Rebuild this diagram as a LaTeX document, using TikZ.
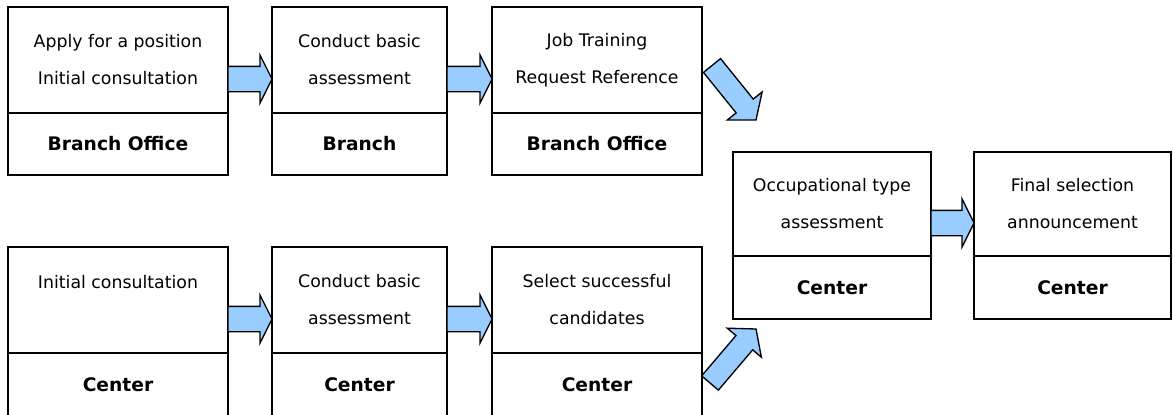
\documentclass[tikz,border=0pt]{standalone}
\usepackage{fontspec}
\setmainfont{DejaVu Sans}
\usetikzlibrary{calc}
\usetikzlibrary{positioning}

\definecolor{arrowblue}{RGB}{153,204,255}

\tikzset{
  upper/.style={draw, line width=1.4pt, outer sep=0pt, inner sep=0pt, align=center,
    font=\fontsize{13}{27.75}\selectfont},
  lower/.style={draw, line width=1.4pt, outer sep=0pt, inner sep=0pt,
    font=\fontsize{14}{16}\selectfont\bfseries},
  arrowbody/.style={fill=arrowblue, draw=black, line width=1pt, line join=miter},
}

% block arrow: tail, tip, half shaft, half head, head length
\newcommand{\blockarrow}[5]{%
  \coordinate (ah) at ($(#2)!#5!(#1)$);
  \filldraw[arrowbody] ($(#1)!#3!90:(#2)$) -- ($(ah)!#3!90:(#2)$) -- ($(ah)!#4!90:(#2)$) -- (#2)
    -- ($(ah)!#4!-90:(#2)$) -- ($(ah)!#3!-90:(#2)$) -- ($(#1)!#3!-90:(#2)$) -- cycle;
}

\begin{document}
\begin{tikzpicture}[x=0.75pt,y=-0.75pt]
\useasboundingbox (0,0) rectangle (1173,414);

% branch route
\node[upper, minimum width=165pt, minimum height=79.5pt, anchor=north west] (apply) at (8,7) {Apply for a position\\Initial consultation};
\node[lower, minimum width=165pt, minimum height=46.5pt, below=0pt of apply] (apply-who) {Branch Office};
\node[upper, minimum width=131.25pt, minimum height=79.5pt, right=33pt of apply] (basic) {Conduct basic\\assessment};
\node[lower, minimum width=131.25pt, minimum height=46.5pt, below=0pt of basic] (basic-who) {Branch};
\node[upper, minimum width=157.5pt, minimum height=79.5pt, right=33.75pt of basic] (training) {Job Training\\Request Reference};
\node[lower, minimum width=157.5pt, minimum height=46.5pt, below=0pt of training] (training-who) {Branch Office};

% center route
\node[upper, minimum width=165pt, minimum height=79.5pt, anchor=north west] (initial) at (8,247) {Initial consultation\\\phantom{x}};
\node[lower, minimum width=165pt, minimum height=48pt, below=0pt of initial] (initial-who) {Center};
\node[upper, minimum width=131.25pt, minimum height=79.5pt, right=33pt of initial] (basic2) {Conduct basic\\assessment};
\node[lower, minimum width=131.25pt, minimum height=48pt, below=0pt of basic2] (basic2-who) {Center};
\node[upper, minimum width=157.5pt, minimum height=79.5pt, right=33.75pt of basic2] (select) {Select successful\\candidates};
\node[lower, minimum width=157.5pt, minimum height=48pt, below=0pt of select] (select-who) {Center};

% both routes end here
\node[upper, minimum width=148.5pt, minimum height=78pt, anchor=north west] (occup) at (733,152) {Occupational type\\assessment};
\node[lower, minimum width=148.5pt, minimum height=47.25pt, below=0pt of occup] (occup-who) {Center};
\node[upper, minimum width=147.75pt, minimum height=78pt, right=32.25pt of occup] (final) {Final selection\\announcement};
\node[lower, minimum width=147.75pt, minimum height=47.25pt, below=0pt of final] (final-who) {Center};

\foreach \s/\e in {apply/basic, basic/training, initial/basic2, basic2/select, occup/final} {
  \coordinate (\s-out) at ($(\s.east)+(0,19)$);
  \coordinate (\e-in) at (\s-out -| \e.west);
  \blockarrow{\s-out}{\e-in}{9.5pt}{18pt}{9pt}
}

\coordinate (top-out) at ($(training.north east)+(10,58.5)$);
\coordinate (top-in) at ($(occup.north west)+(23,-32)$);
\blockarrow{top-out}{top-in}{8.25pt}{16.8pt}{13.5pt}

\coordinate (low-out) at ($(select-who.north east)+(8,30)$);
\coordinate (low-in) at ($(occup-who.south west)+(23,10)$);
\blockarrow{low-out}{low-in}{8.25pt}{16.8pt}{13.5pt}

\end{tikzpicture}
\end{document}
